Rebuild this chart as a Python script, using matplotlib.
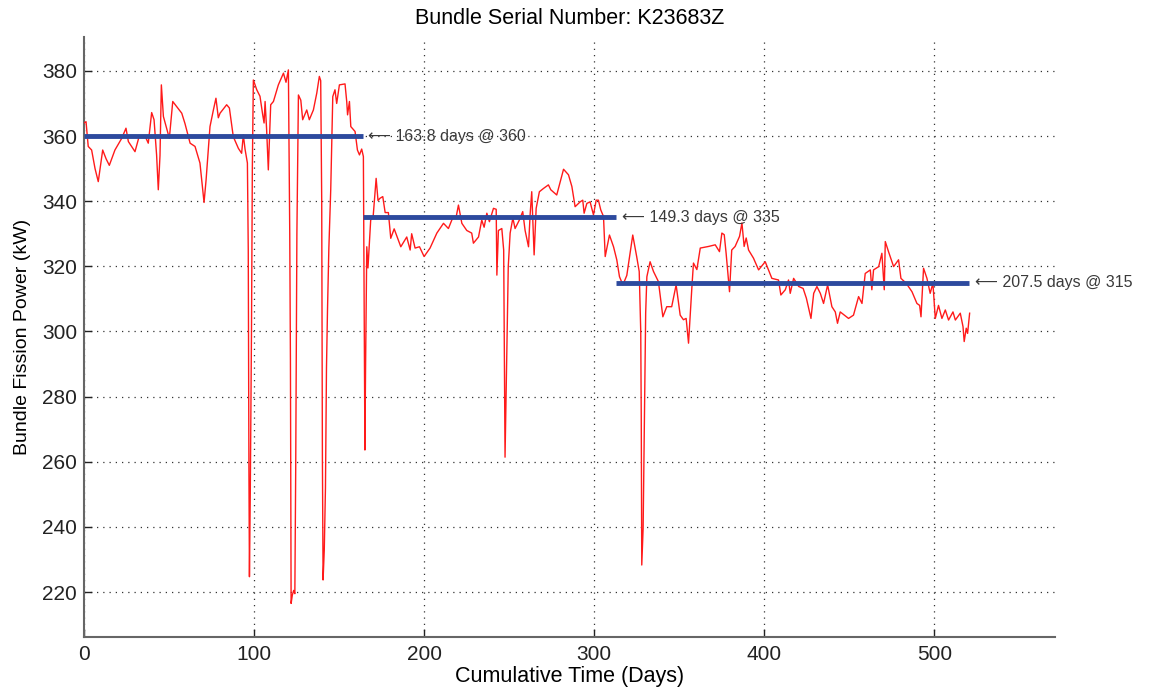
import matplotlib
matplotlib.use("Agg")
import matplotlib.pyplot as plt

plt.rcParams['font.family'] = ['Liberation Sans', 'DejaVu Sans']

days = [0, 1.2, 2.5, 4.5, 6.5, 8.4, 11, 13, 14.9, 18.2, 22.2, 24.7, 26.1, 30, 32.5, 35.9, 37.8, 39.8, 41.2,
        42.7, 43.7, 44.7, 45.5, 46.7, 50.2, 52.2, 57.5, 59.4, 62.4, 65.3, 68.2, 70.6, 71.8, 74.1, 76.1, 77.6,
        79, 80, 83.9, 85.5, 87.8, 90.8, 92.7, 93.7, 94.7, 96.1, 96.6, 97.0, 97.3, 97.8, 98.5, 99.0, 99.6,
        101.6, 103.5, 105.1, 105.9, 106.5, 107.4, 108.4, 109.8, 111.4, 114.3, 117.3, 118.8, 120.2, 121.0,
        121.4, 121.8, 122.5, 123.3, 124.0, 124.5, 125.2, 126.1, 127.5, 128.6, 131, 132.5, 134.9, 136.9,
        138.4, 139.2, 139.8, 140.2, 140.6, 141.3, 142.0, 142.6, 143.2, 144.0, 145.1, 146.3, 147.6, 148.6,
        150.2, 153.5, 154.5, 155, 156.1, 156.9, 159.4, 160.8, 162, 163.3, 164.3,
        164.8, 165.2, 165.6, 166.3, 167.0, 168.6, 170, 171.8, 172.9, 174.1, 175.7, 177.1, 179, 180.4, 182.4,
        186.3, 189.8, 191.8, 192.7, 194.7, 197.3, 200, 203.5, 207.5, 211.4, 214.3, 216.9, 218.8, 220.2,
        222.2, 225.1, 228, 229, 232, 233.9, 235.3, 236.9, 238.4, 240.8, 242.4, 242.8, 243.7, 245.7, 246.8,
        247.6, 248.5, 249.5, 250.6, 252.2, 253.5, 256, 258, 259.4, 261.4, 262.4, 263.3, 264.7, 265.9, 267.8,
        270.2, 273.1, 274.5, 278, 282, 284.9, 286.9, 288.8, 291.8, 293.3, 294.1, 295.7, 297.6, 299.6, 301.2,
        302.5, 303.9, 305.5, 306.5, 309, 311.4, 313.3,
        314.9, 316.9, 319.2, 322.7, 325, 326.5, 327.4, 327.7, 328, 328.8, 329.3, 329.8, 330.3, 331, 332.9,
        334.9, 337.8, 340.4, 342.7, 345.6, 348.2, 350.6, 352.5, 354.1, 355.5, 357.5, 358.4, 360.4, 362.4,
        367.3, 371.2, 373.7, 375.1, 376.5, 377.6, 379.6, 380.9, 382.9, 385.5, 386.9, 388.2, 389.4, 390.8,
        393.7, 396.7, 400.6, 404.5, 408.4, 409.8, 412.4, 414.3, 415.3, 417.3, 420.3, 422.9, 424.8, 427.5,
        429.1, 431, 433, 434.9, 437.3, 439.8, 441.8, 443.1, 444.7, 449.6, 452.5, 455.5, 457.5, 459.4, 462.4,
        463.3, 464.3, 467.3, 469.2, 470.6, 471.2, 473.1, 476.1, 479, 480.4, 483.5, 486.9, 489.8, 491.4,
        492.2, 493.7, 495.7, 497.6, 499.2, 500.6, 502.5, 504.5, 506.5, 508.4, 511, 512.4, 515.3, 516.9,
        517.6, 518.8, 519.6, 520.8]

power = [364, 364.4, 356.8, 355.7, 350, 346, 355.7, 353, 351, 355.7, 359.3, 362.4, 358.3, 355.2, 360, 360,
         357.8, 367.2, 365, 354.2, 343.5, 354, 375.7, 366, 359.3, 370.6, 367, 363.8, 357.8, 356.8, 351.7,
         339.6, 346.5, 362.9, 368, 371.6, 365.6, 367, 369.6, 368.6, 359.8, 356.2, 354.7, 360.3, 356, 351.7,
         325, 257, 224.7, 251, 300, 350, 377.2, 374.2, 372.2, 366.5, 364, 370.6, 362, 349.6, 369.6, 370.6,
         375.7, 379.3, 376.5, 380.3, 330, 291, 216.5, 219, 220.5, 219.5, 257.5, 330, 372.6, 371, 365, 368,
         365, 368, 373.2, 378.3, 377, 340, 261.4, 223.7, 232.9, 252, 288.8, 306.6, 325.6, 343.5, 372.1,
         374.2, 370, 375.7, 376, 370.6, 366.5, 370.6, 362.9, 361.4, 355.7, 354.2, 356, 353.7,
         300, 263.6, 290, 326, 319.5, 334.2, 335, 347, 340.2, 340.9, 341.4, 336.5, 336.5, 328.6, 331.5,
         326, 329, 325, 330, 325.6, 326, 323, 325.6, 330.2, 333.2, 331.6, 335, 335, 338.8,
         333.2, 331, 330.2, 327.1, 329, 334.2, 332, 336.3, 333.7, 337.8, 337.5, 317.3, 331, 331.6, 325,
         261.4, 290, 320, 330.2, 334.8, 331.6, 334.2, 336.8, 331, 326, 336.3, 342.9, 323.5, 337.8, 342.9,
         343.9, 345, 343.5, 341.9, 349.8, 348.1, 344.5, 338.3, 339.8, 340.3, 336.3, 339.3, 339.8, 335.8,
         340.3, 340.3, 337.3, 335.3, 323, 329.6, 326, 322,
         316.8, 314.3, 317.2, 329.6, 323, 318.4, 300, 273.8, 228.3, 239.6, 262, 283.6, 305.7, 316.8, 321.4,
         318.4, 315.3, 304.5, 307.6, 307.6, 314.3, 305, 303.6, 304, 296.4, 313.8, 321, 319, 325.6,
         326.1, 326.6, 324.5, 330.2, 329.7, 324, 312.2, 325, 326.1, 329.2, 333.3, 326.1, 328.7, 325,
         322.5, 318.9, 321.4, 316.3, 315.8, 311.2, 312.8, 315.8, 311.7, 316.3, 313.8, 313.2, 310.2, 304,
         311.7, 313.8, 311.7, 308.6, 314.3, 307.6, 306, 302.5, 306, 304, 305, 310.7, 308.6, 317.8, 318.9,
         312.8, 318.9, 319.9, 324, 312.8, 327.6, 324.5, 319.9, 322, 316.3, 314.8, 312.2, 308.6, 308,
         304.5, 319.4, 316.3, 311.7, 314.8, 304, 308, 304, 306.6, 303.5, 306, 303.5, 305.6, 301.5,
         296.9, 301, 299.4, 305.6]

seg_lengths = [163.8, 149.3, 207.5]
seg_levels = [360, 335, 315]

title = "Bundle Serial Number: K23683Z"
xlabel = "Cumulative Time (Days)"
ylabel = "Bundle Fission Power (kW)"
xticks = [0, 100, 200, 300, 400, 500]
yticks = [220, 240, 260, 280, 300, 320, 340, 360, 380]

fig = plt.figure(figsize=(11.52, 6.89), dpi=100)
ax = fig.add_axes([0.0729, 0.0755, 0.8429, 0.8708])

ax.plot(days, power, color='#ff1a1a', linewidth=1.0, zorder=3)

start = 0.0
for length, level in zip(seg_lengths, seg_levels):
    end = start + length
    ax.plot([start, end], [level, level], color='#2d4a9e', linewidth=3.5, solid_capstyle='butt', zorder=4)
    ax.text(end + 3.5, level, "\u27f5 %.1f days @ %d" % (length, level), fontsize=11.5,
            color='#3a3a3a', va='center', ha='left', zorder=5)
    start = end

ax.set_xlim(0, 571)
ax.set_ylim(206.2, 390.4)
ax.set_xticks(xticks)
ax.set_yticks(yticks)
ax.tick_params(direction='in', length=6, width=1, labelsize=15, colors='#222222')
ax.tick_params(axis='x', pad=6)
ax.tick_params(axis='y', pad=5)
ax.grid(True, linestyle=(0, (1, 4)), color='#333333', linewidth=0.9)
for s in ['top', 'right']:
    ax.spines[s].set_visible(False)
for s in ['left', 'bottom']:
    ax.spines[s].set_color('#666666')
    ax.spines[s].set_linewidth(1.5)

ax.set_title(title, fontsize=15.5, pad=9)
ax.set_xlabel(xlabel, fontsize=15.5, labelpad=1)
ax.set_ylabel(ylabel, fontsize=14, labelpad=8)

fig.savefig("out.png", dpi=100)
